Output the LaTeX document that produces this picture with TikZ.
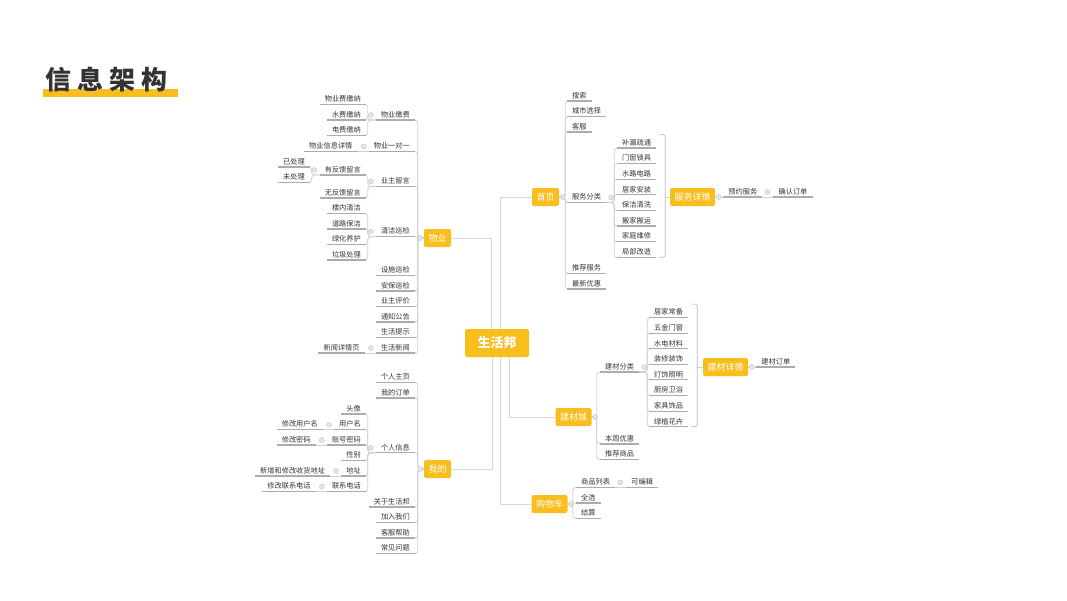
\documentclass[tikz,border=0pt]{standalone}
\usepackage{fontspec}
\newfontfamily\cjk{Noto Sans CJK SC}
\usepackage{xcolor}
\usepackage{tikz}
\usetikzlibrary{positioning, calc, backgrounds}
\definecolor{mmyellow}{RGB}{247,190,30}
\definecolor{mmtext}{RGB}{51,51,51}

\begin{document}
\begin{tikzpicture}[
  x=1pt, y=-1pt,
  every node/.style={inner sep=2pt},
  title/.style={font=\cjk\bfseries\fontsize{26}{26}\selectfont, text=mmtext, inner sep=0pt},
  root/.style={fill=mmyellow, rounded corners=2pt, text=white, font=\cjk\bfseries\fontsize{13}{13}\selectfont,
    minimum width=64pt, minimum height=28pt},
  topic/.style={fill=mmyellow, rounded corners=2pt, text=white, font=\cjk\fontsize{9}{9}\selectfont,
    inner xsep=4.5pt, minimum height=18pt},
  leaf/.style={font=\cjk\fontsize{7.2}{7.2}\selectfont, text=mmtext, inner xsep=5pt, inner ysep=1.5pt,
    text height=6pt, text depth=1pt,
    append after command={(\tikzlastnode.south west) edge[uline] (\tikzlastnode.south east)}},
  uline/.style={draw=gray!65, line width=1.1pt},
  branch/.style={draw=gray!35, line width=0.8pt, rounded corners=3pt},
  trunk/.style={draw=gray!30, line width=0.8pt},
  brk/.style={draw=gray!55, line width=0.7pt, rounded corners=2pt},
  dot/.style={circle, fill=gray!20, draw=gray!45, line width=0.4pt, minimum size=5pt, inner sep=0pt}
]
\useasboundingbox (0,0) rectangle (1067,600);

% title
\fill[mmyellow] (43,89) rectangle (178,97);
\node[title, anchor=west] (ttl) at (45,80) {信\hspace{6pt}息\hspace{6pt}架\hspace{6pt}构};

% main topics
\node[root] (root) at (497,343) {生活邦};
\node[topic] (sy) at (545.5,197) {首页};
\node[topic] (jcc) at (573.5,417) {建材城};
\node[topic] (gwc) at (549.5,504) {购物车};
\node[topic] (wy) at (437.5,238) {物业};
\node[topic] (wd) at (437.5,469) {我的};
\node[topic] (fwxq) at (692.5,197) {服务详情};
\node[topic] (jcxq) at (725.5,367) {建材详情};

% 首页
\foreach \nm/\txt/\yy in {ss/搜索/101, csxz/城市选择/116.5, kf/客服/132, fwfl/服务分类/202.5,
    tjfw/推荐服务/273.5, zxyh/最新优惠/289}
  \node[leaf, anchor=south west] (\nm) at (567,\yy) {\txt};
\foreach \txt [count=\i] in {补漏疏通,门窗锁具,水路电路,居家安装,保洁清洗,搬家搬运,家庭维修,局部改造}
  \node[leaf, anchor=south west] (fw\i) at (617,{148+15.6*(\i-1)}) {\txt};
\node[leaf, anchor=south west] (yyfw) at ($(fwxq.east)+(8,0)$) {预约服务};
\node[leaf, anchor=south west] (qrdd) at ($(yyfw.south east)+(11,0)$) {确认订单};

% 建材城
\foreach \nm/\txt/\yy in {jcfl/建材分类/372, bzyh/本周优惠/444, tjsp/推荐商品/459.5}
  \node[leaf, anchor=south west] (\nm) at (600,\yy) {\txt};
\foreach \txt [count=\i] in {居家常备,五金门窗,水电材料,装修装饰,灯饰照明,厨房卫浴,家具饰品,绿植花卉}
  \node[leaf, anchor=south west] (jc\i) at (649,{317.5+15.6*(\i-1)}) {\txt};
\node[leaf, anchor=south west] (jcdd) at ($(jcxq.east)+(8,0)$) {建材订单};

% 购物车
\foreach \nm/\txt/\yy in {splb/商品列表/487.5, qx/全选/503, js/结算/518.5}
  \node[leaf, anchor=south west] (\nm) at (576,\yy) {\txt};
\node[leaf, anchor=south west] (kbj) at ($(splb.south east)+(11,0)$) {可编辑};

% 物业
\foreach \nm/\txt/\yy in {wyjf/物业缴费/120, wydyd/物业一对一/151.5, yzly/业主留言/186.5, qjxj/清洁巡检/236.5,
    ssxj/设施巡检/275.5, abxj/安保巡检/291, yzpj/业主评价/306.5, tzgg/通知公告/322,
    shts/生活提示/337.5, shxw/生活新闻/353}
  \node[leaf, anchor=south east] (\nm) at (415,\yy) {\txt};
\foreach \nm/\txt/\yy in {wyfjn/物业费缴纳/104.5, sfjn/水费缴纳/120, dfjn/电费缴纳/135.5,
    yfkly/有反馈留言/175, wfkly/无反馈留言/198,
    lnqj/楼内清洁/213.5, dlbj/道路保洁/229, lhyh/绿化养护/244.5, ljcl/垃圾处理/260}
  \node[leaf, anchor=south east] (\nm) at (366,\yy) {\txt};
\foreach \nm/\txt/\yy in {ycl/已处理/167, wcl/未处理/182.5}
  \node[leaf, anchor=south east] (\nm) at (310,\yy) {\txt};
\node[leaf, anchor=south east] (wyxxxq) at ($(wydyd.south west)+(-11,0)$) {物业信息详情};
\node[leaf, anchor=south east] (xwxqy) at ($(shxw.south west)+(-11,0)$) {新闻详情页};

% 我的
\foreach \nm/\txt/\yy in {grzy/个人主页/382.5, wddd/我的订单/398, grxx/个人信息/452.75,
    gyshb/关于生活邦/507, jrwm/加入我们/522.5, kfbz/客服帮助/538, cjwt/常见问题/553.5}
  \node[leaf, anchor=south east] (\nm) at (415,\yy) {\txt};
\foreach \nm/\txt/\yy in {tx/头像/414, yhm/用户名/429.5, zhmm/账号密码/445, xb/性别/460.5,
    dz/地址/476, lxdh/联系电话/491.5}
  \node[leaf, anchor=south east] (\nm) at (366,\yy) {\txt};
\node[leaf, anchor=south east] (xgyhm) at ($(yhm.south west)+(-11,0)$) {修改用户名};
\node[leaf, anchor=south east] (xgmm) at ($(zhmm.south west)+(-11,0)$) {修改密码};
\node[leaf, anchor=south east] (xgdz) at ($(dz.south west)+(-11,0)$) {新增和修改收货地址};
\node[leaf, anchor=south east] (xgdh) at ($(lxdh.south west)+(-11,0)$) {修改联系电话};

% collapse dots
\foreach \nm in {sy,jcc,gwc,fwxq,jcxq}
  \node[dot] (\nm-o) at ($(\nm.east)+(3.5,0)$) {};
\foreach \nm in {wy,wd}
  \node[dot] (\nm-o) at ($(\nm.west)+(-3.5,0)$) {};
\foreach \nm in {fwfl,yyfw,jcfl,splb}
  \node[dot] (\nm-o) at ($(\nm.south east)+(5,-5)$) {};
\foreach \nm in {wyjf,wydyd,yzly,yfkly,qjxj,shxw,grxx,yhm,zhmm,dz,lxdh}
  \node[dot] (\nm-o) at ($(\nm.south west)+(-5,-5)$) {};

\begin{scope}[on background layer]
  % from the root
  \draw[trunk] ($(root.north)+(-6,0)$) |- (wy.east);
  \draw[trunk] ($(root.south)+(-5,0)$) |- (wd.east);
  \draw[trunk] ($(root.north)+(3,0)$) |- (sy.west);
  \draw[trunk] ($(root.south)+(3,0)$) |- (gwc.west);
  \draw[trunk] ($(root.south)+(12,0)$) |- (jcc.west);

  % right side
  \foreach \nm in {ss,csxz,kf,fwfl,tjfw,zxyh}
    \draw[branch] (sy.east) -- ++(6,0) |- (\nm.south west);
  \foreach \i in {1,...,8}
    \draw[branch] (fwfl.south east) -- ++(8,0) |- (fw\i.south west);
  \draw[brk] ($(fw1.north east)+(3,-3)$) -- ++(6,0) |- ($(fw8.south east)+(3,0)$);
  \draw[branch] (fwxq.west) -- ++(-6,0);
  \draw[branch] (fwxq.east) -- (yyfw.south west);
  \draw[branch] (yyfw.south east) -- (qrdd.south west);

  \foreach \nm in {jcfl,bzyh,tjsp}
    \draw[branch] (jcc.east) -- ++(5,0) |- (\nm.south west);
  \foreach \i in {1,...,8}
    \draw[branch] (jcfl.south east) -- ++(8,0) |- (jc\i.south west);
  \draw[brk] ($(jc1.north east)+(3,-3)$) -- ++(6,0) |- ($(jc8.south east)+(3,0)$);
  \draw[branch] (jcxq.west) -- ++(-7,0);
  \draw[branch] (jcxq.east) -- (jcdd.south west);

  \foreach \nm in {splb,qx,js}
    \draw[branch] (gwc.east) -- ++(5,0) |- (\nm.south west);
  \draw[branch] (splb.south east) -- (kbj.south west);

  % left side
  \foreach \nm in {wyjf,wydyd,yzly,qjxj,ssxj,abxj,yzpj,tzgg,shts,shxw}
    \draw[branch] (wy.west) -- ++(-6,0) |- (\nm.south east);
  \foreach \nm in {wyfjn,sfjn,dfjn}
    \draw[branch] (wyjf.south west) -- ++(-8,0) |- (\nm.south east);
  \draw[branch] (wydyd.south west) -- (wyxxxq.south east);
  \foreach \nm in {yfkly,wfkly}
    \draw[branch] (yzly.south west) -- ++(-8,0) |- (\nm.south east);
  \foreach \nm in {ycl,wcl}
    \draw[branch] (yfkly.south west) -- ++(-8,0) |- (\nm.south east);
  \foreach \nm in {lnqj,dlbj,lhyh,ljcl}
    \draw[branch] (qjxj.south west) -- ++(-8,0) |- (\nm.south east);
  \draw[branch] (shxw.south west) -- (xwxqy.south east);

  \foreach \nm in {grzy,wddd,grxx,gyshb,jrwm,kfbz,cjwt}
    \draw[branch] (wd.west) -- ++(-6,0) |- (\nm.south east);
  \foreach \nm in {tx,yhm,zhmm,xb,dz,lxdh}
    \draw[branch] (grxx.south west) -- ++(-8,0) |- (\nm.south east);
  \draw[branch] (yhm.south west) -- (xgyhm.south east);
  \draw[branch] (zhmm.south west) -- (xgmm.south east);
  \draw[branch] (dz.south west) -- (xgdz.south east);
  \draw[branch] (lxdh.south west) -- (xgdh.south east);
\end{scope}
\end{tikzpicture}
\end{document}
